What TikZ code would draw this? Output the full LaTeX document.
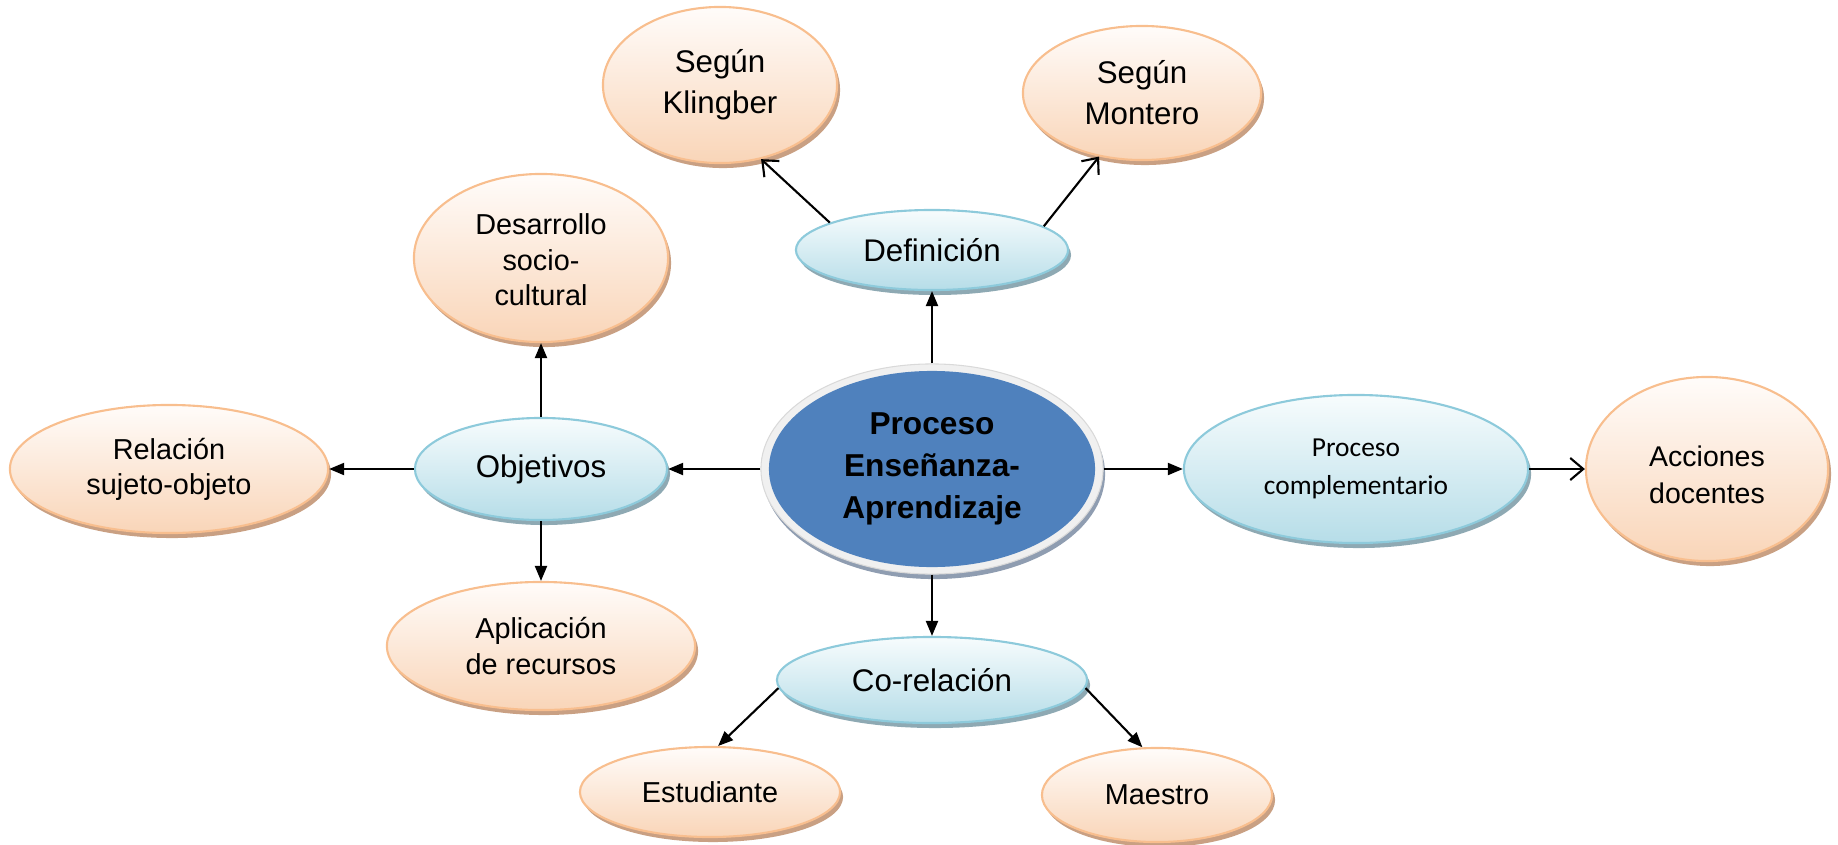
\documentclass[tikz,border=0pt]{standalone}
\usepackage{fontspec}
\setmainfont{Liberation Sans}
\newfontfamily\calibri{Carlito}
\usetikzlibrary{shapes.geometric,shadows,arrows.meta}

\definecolor{OrTop}{HTML}{FFFCFA}
\definecolor{OrBot}{HTML}{F9D5B8}
\definecolor{OrLine}{HTML}{F8BE8E}
\definecolor{OrShade}{HTML}{C9A083}
\definecolor{BlTop}{HTML}{F7FCFD}
\definecolor{BlBot}{HTML}{B6DDE8}
\definecolor{BlLine}{HTML}{8DCADB}
\definecolor{BlShade}{HTML}{8EA9B3}
\definecolor{CoreBlue}{HTML}{4F81BD}
\definecolor{CoreRing}{HTML}{F0F0F0}
\definecolor{CoreShade}{HTML}{8F9DB1}

% text block lowered inside its bubble (#1 = shift, axis included)
\newcommand{\lowtext}[2]{\raisebox{#1}[0pt][0pt]{\begin{tabular}{@{}c@{}}#2\end{tabular}}}

\tikzset{
  bubble/.style={ellipse, inner sep=0pt, align=center, line width=0.6pt},
  peach/.style={bubble, draw=OrLine, top color=OrTop, bottom color=OrBot,
    drop shadow={shadow xshift=0.03cm, shadow yshift=-0.05cm, fill=OrShade, opacity=1}},
  sky/.style={bubble, draw=BlLine, top color=BlTop, bottom color=BlBot,
    drop shadow={shadow xshift=0.03cm, shadow yshift=-0.05cm, fill=BlShade, opacity=1}},
  corering/.style={ellipse, inner sep=0pt, draw=black!15, line width=0.3pt, fill=CoreRing,
    drop shadow={shadow xshift=0.02cm, shadow yshift=-0.05cm, fill=CoreShade, opacity=1}},
  core/.style={ellipse, inner sep=0pt, align=center, fill=CoreBlue,
    font=\bfseries\fontsize{9}{12}\selectfont},
  txtL/.style={font=\fontsize{8.9}{11.7}\selectfont},
  txtM/.style={font=\fontsize{8.2}{10}\selectfont},
  fillarrow/.style={-{Triangle[length=0.15cm,width=0.12cm]}, line width=0.6pt},
  openarrow/.style={-{Straight Barb[length=0.13cm,width=0.22cm]}, line width=0.6pt},
}

\begin{document}
\begin{tikzpicture}[x=0.01cm, y=0.01cm]
\useasboundingbox (0,0) rectangle (1838,-845);

% _____ Core
\def\RowY{-469}
\def\MidX{932}
\def\LeftX{541}

\node[corering, minimum width=3.42cm, minimum height=2.10cm] (c) at (\MidX,\RowY) {};
\node[core, minimum width=3.26cm, minimum height=1.96cm] (cin) at (c) {Proceso\\Enseñanza-\\Aprendizaje};

% _____ Definición branch
\node[sky, txtL, minimum width=2.72cm, minimum height=0.80cm] (def) at (\MidX,-250) {Definición};
\node[peach, txtL, minimum width=2.34cm, minimum height=1.56cm] (kl) at (720,-85) {Según\\Klingber};
\node[peach, txtL, minimum width=2.38cm, minimum height=1.34cm] (mo) at (1142,-93) {\lowtext{-0.11cm}{Según\\Montero}};

% _____ Objetivos branch
\node[sky, txtL, minimum width=2.52cm, minimum height=1.02cm] (obj) at (\LeftX,\RowY) {Objetivos};
\node[peach, txtM, minimum width=2.54cm, minimum height=1.68cm] (des) at (\LeftX,-258) {\lowtext{-0.12cm}{Desarrollo\\socio-\\cultural}};
\node[peach, txtM, minimum width=3.18cm, minimum height=1.28cm] (rel) at (169,\RowY) {Relación\\sujeto-objeto};
\node[peach, txtM, minimum width=3.08cm, minimum height=1.28cm] (apl) at (\LeftX,-646) {Aplicación\\de recursos};

% _____ Proceso complementario branch
\node[sky, font=\calibri\fontsize{7.8}{11}\selectfont, minimum width=3.44cm, minimum height=1.48cm] (proc) at (1356,\RowY) {Proceso\\complementario};
\node[peach, font=\fontsize{8.1}{10.5}\selectfont, minimum width=2.42cm, minimum height=1.84cm] (acc) at (1707,\RowY) {\lowtext{-0.16cm}{Acciones\\docentes}};

% _____ Co-relación branch
\node[sky, txtL, minimum width=3.10cm, minimum height=0.86cm] (co) at (\MidX,-680) {Co-relación};
\node[peach, txtM, minimum width=2.60cm, minimum height=0.90cm] (est) at (710,-792) {Estudiante};
\node[peach, txtM, minimum width=2.30cm, minimum height=0.94cm] (mae) at (1157,-795) {Maestro};

% _____ connectors
\draw[fillarrow] (c) -- (def);
\draw[openarrow] (def.165) -- (kl.-61);
\draw[openarrow] (def.12) -- (mo.236);

\draw[fillarrow] (c) -- (obj);
\draw[fillarrow] (obj) -- (des);
\draw[fillarrow] (obj) -- (rel);
\draw[fillarrow] (obj) -- (apl);

\draw[fillarrow] (c) -- (proc);
\draw[openarrow] (proc) -- (acc);

\draw[fillarrow] (c) -- (co);
\draw[fillarrow] (co.183) -- (est.80);
\draw[fillarrow] (co.-3) -- (mae.107);

\end{tikzpicture}
\end{document}
